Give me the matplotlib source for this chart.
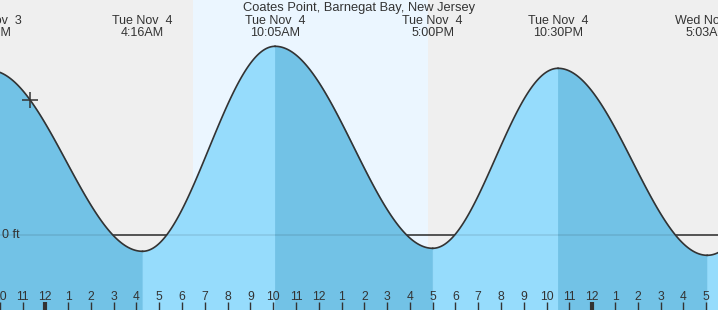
import numpy as np
import matplotlib.pyplot as plt
import matplotlib.transforms as mtransforms

plt.rcParams['font.family'] = ['Liberation Sans', 'DejaVu Sans']

title = "Coates Point, Barnegat Bay, New Jersey"

# high / low tides: hours after midnight Tue Nov 4, height in feet
tide_hours = [-8.6, -2.45, 4.267, 10.083, 17.0, 22.5, 29.05, 35.4]
tide_feet = [-0.10, 1.65, -0.16, 1.89, -0.13, 1.67, -0.20, 1.75]
tide_labels = ["", "Mon Nov  3\n9:33PM", "Tue Nov  4\n4:16AM", "Tue Nov  4\n10:05AM",
               "Tue Nov  4\n5:00PM", "Tue Nov  4\n10:30PM", "Wed Nov  5\n5:03AM", ""]

# daylight (sunrise / sunset) in hours
sunrise = 6.5
sunset = 16.8

# current time marker
now_hour = -0.67
now_feet = 1.35

hours = list(range(-2, 30))
hour_labels = [str((h - 1) % 12 + 1) for h in hours]

txt = '#333333'
rise_col = '#96dcfc'
fall_col = '#72c2e6'

fig = plt.figure(figsize=(7.18, 3.10), dpi=100)
ax = fig.add_axes([0, 0, 1, 1])
xmin, xmax = -1.988, 29.52
ymin, ymax = -0.747, 2.353
ax.set_xlim(xmin, xmax)
ax.set_ylim(ymin, ymax)
ax.axis('off')

ax.axvspan(xmin, xmax, color='#efefef', lw=0, zorder=0)
ax.axvspan(sunrise, sunset, color='#ebf6ff', lw=0, zorder=0)

# zero line under the water
ax.axhline(0, color=txt, lw=1.1, zorder=1)

# tide curve, cosine shape between successive extremes
for i in range(len(tide_hours) - 1):
    t0, t1 = tide_hours[i], tide_hours[i + 1]
    h0, h1 = tide_feet[i], tide_feet[i + 1]
    t = np.linspace(t0, t1, 120)
    h = h1 + (h0 - h1) * (1 + np.cos(np.pi * (t - t0) / (t1 - t0))) / 2
    col = rise_col if h1 > h0 else fall_col
    ax.fill_between(t, ymin, h, facecolor=col, edgecolor=col, lw=0.6, zorder=2)
    ax.plot(t, h, color=txt, lw=1.2, zorder=4)

# zero line shows faintly through the water
ax.axhline(0, color='black', alpha=0.1, lw=1.1, zorder=3)
ax.text(xmin + 0.1, 0, "0 ft", color=txt, fontsize=9, ha='left', va='center', zorder=5)

ax.plot(now_hour, now_feet, marker='+', ms=11, mew=1.1, color=txt, zorder=5)

trans = mtransforms.blended_transform_factory(ax.transData, ax.transAxes)

# hour ticks along the bottom
for h, lab in zip(hours, hour_labels):
    lw = 3 if h % 24 == 0 else 1
    ax.vlines(h, 0, 0.026, color=txt, lw=lw, transform=trans, zorder=5)
    ax.text(h, 0.043, lab, color=txt, fontsize=8.7, ha='center', va='center',
            transform=trans, zorder=5)

# high / low labels at the top
for h, lab in zip(tide_hours, tide_labels):
    if lab:
        ax.text(h, 1 - 26.5 / 310, lab, color=txt, fontsize=9, ha='center', va='center',
                linespacing=1.0, transform=trans, zorder=5)

fig.text(0.5, 1 - 7.5 / 310, title, color=txt, fontsize=9.3, ha='center', va='center')

plt.savefig("out.png", dpi=100)
